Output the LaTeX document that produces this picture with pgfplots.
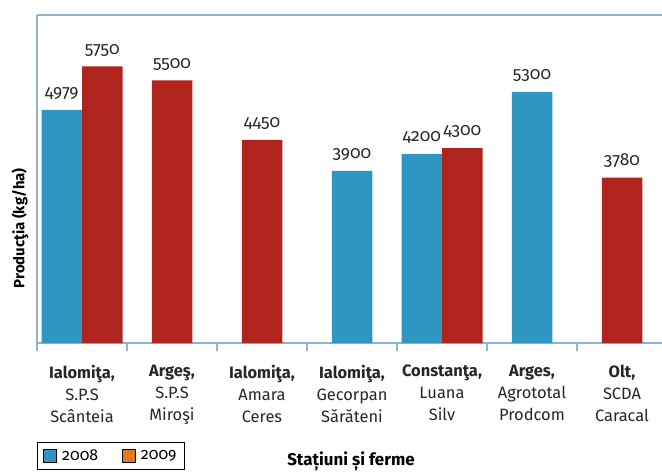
\documentclass[border=0pt]{standalone}
\usepackage{pgfplots}
\pgfplotsset{compat=1.18}
\usepackage{fontspec}
\setmainfont{Fira Sans}[Numbers=OldStyle]
\newfontfamily\onumfont{Fira Sans}[Numbers=OldStyle]
\definecolor{mblue}{RGB}{46,150,192}
\definecolor{mred}{RGB}{176,36,30}
\definecolor{morange}{RGB}{232,120,30}
\definecolor{axcol}{RGB}{140,180,204}
\begin{document}
\begin{tikzpicture}
\begin{axis}[
 scale only axis, width=625bp, height=328bp,
 at={(0,0)}, anchor=south west,
 xmin=-0.5, xmax=6.4444, ymin=850, ymax=6660,
 clip=false,
 axis x line=bottom, axis y line=left,
 axis line style={-, draw=axcol, line width=2.4bp},
 ytick=\empty,
 xtick={0,1,2,3,4,5,6},
 xticklabels={
  {\textbf{Ialomiţa,}\\S.P.S\\Scânteia},
  {\textbf{Argeş,}\\S.P.S\\Miroşi},
  {\textbf{Ialomiţa,}\\Amara\\Ceres},
  {\textbf{Ialomiţa,}\\Gecorpan\\Sărăteni},
  {\textbf{Constanţa,}\\Luana\\Silv},
  {\textbf{Arges,}\\Agrototal\\Prodcom},
  {\textbf{Olt,}\\SCDA\\Caracal}},
 xticklabel style={align=center, inner sep=0pt, yshift=-22bp, font=\fontsize{16.5}{22}\selectfont, text=black!85},
 major tick length=0pt,
 extra x ticks={-0.5,0.5,1.5,2.5,3.5,4.5,5.5},
 extra x tick labels={},
 extra x tick style={major tick length=8bp, tick align=outside, tick style={draw=axcol, line width=2bp}},
 ybar, bar shift=0pt, bar width=0.45,
 /pgf/number format/1000 sep={},
 /pgf/number format/assume math mode=true,
 nodes near coords={\onumfont\pgfmathprintnumber{\pgfplotspointmeta}},
 every node near coord/.append style={font=\fontsize{17.5}{20}\selectfont\onumfont, inner sep=0pt, yshift=10bp, text=black!85},
 ylabel={\textbf{Producţia (kg/ha)}},
 ylabel style={at={(axis description cs:-0.0272,0.35)}, anchor=center, font=\fontsize{15}{18}\selectfont},
 xlabel={\textbf{Stațiuni și ferme}},
 xlabel style={at={(axis description cs:0.5024,-0.361)}, anchor=center, font=\fontsize{17}{20}\selectfont},
 legend image code/.code={\draw[#1, line width=0.8bp] (0bp,-6.5bp) rectangle (13bp,6.5bp);},
 legend style={at={(axis description cs:0,-0.302)}, anchor=north west, draw=black, line width=0.8bp,
   font=\fontsize{16}{19}\selectfont\onumfont, legend columns=2,
   /tikz/every odd column/.append style={column sep=3bp},
   /tikz/every even column/.append style={column sep=22bp}, inner xsep=6bp, inner ysep=5.5bp},
]
\addplot[fill=mblue, draw=none, forget plot] coordinates {(-0.225,4979) (3,3900) (3.775,4200) (5,5300)};
\addplot[fill=mred, draw=none, forget plot] coordinates {(0.225,5750) (1,5500) (2,4450) (4.225,4300) (6,3780)};
\addlegendimage{fill=mblue, draw=black}
\addlegendentry{\onumfont 2008}
\addlegendimage{fill=morange, draw=black}
\addlegendentry{\onumfont 2009}
\draw[axcol, line width=2.4bp] (rel axis cs:0,1) -- (rel axis cs:1,1);
\end{axis}
\pgfresetboundingbox
\useasboundingbox (-37bp,-129bp) rectangle (625bp,343bp);
\end{tikzpicture}
\end{document}
